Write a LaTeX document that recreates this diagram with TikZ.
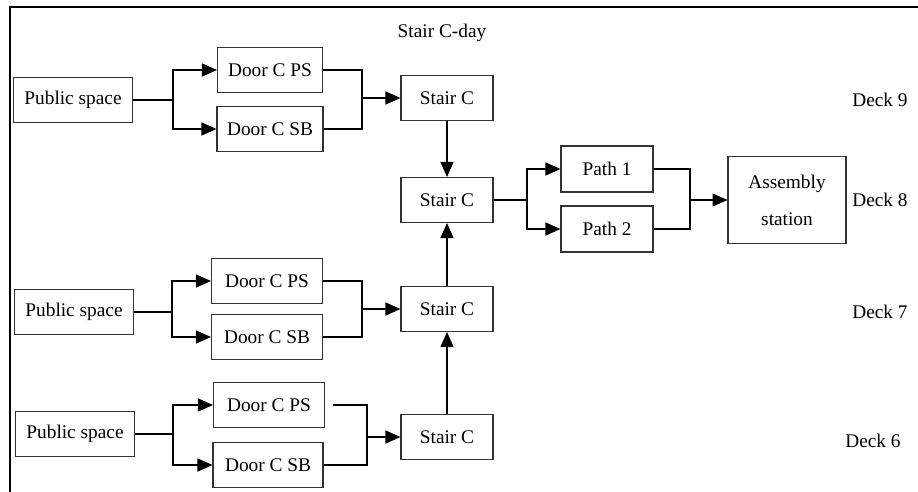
\documentclass[tikz,border=0pt]{standalone}
\usepackage{fontspec}
\setmainfont{Liberation Serif}
\usetikzlibrary{arrows.meta,positioning}
\tikzset{blk/.style={draw=black!80, line width=0.6pt, inner sep=2pt, minimum height=0.9cm, font=\fontsize{11}{13}\selectfont}}
\tikzset{wire/.style={draw, line width=0.7pt}}
\tikzset{arr/.style={wire, -{Triangle[length=0.3cm,width=0.26cm]}}}
\tikzset{lbl/.style={font=\fontsize{11}{13}\selectfont}}

\begin{document}
\begin{tikzpicture}[x=0.02cm, y=-0.02cm]
        \useasboundingbox (0,0) rectangle (918,492);
        \draw[line width=1.1pt] (10,492) -- (10,7) -- (918,7);

        \node[lbl] (title) at (442,33) {Stair C-day};

        % deck 9
        \node[blk, minimum width=2.38cm] (ps9) at (73,100) {Public space};
        \node[blk, minimum width=2.1cm] (dps9) at (270,70) {Door C PS};
        \node[blk, minimum width=2.12cm] (dsb9) at (270,129) {Door C SB};
        \node[blk, minimum width=1.84cm] (sc9) at (447,98) {Stair C};
        \coordinate (b9) at (173,100);
        \coordinate (m9) at (362,98);

        % deck 8
        \node[blk, minimum width=1.84cm] (sc8) at (447,200) {Stair C};
        \node[blk, minimum width=1.84cm, minimum height=0.92cm] (p1) at (607,169) {Path 1};
        \node[blk, minimum width=1.84cm, minimum height=0.92cm] (p2) at (607,229) {Path 2};
        \node[blk, minimum width=2.36cm, minimum height=1.74cm, align=center] (asm) at (787,200) {Assembly\\[8pt]station};
        \coordinate (b8) at (527,200);
        \coordinate (m8) at (690,200);

        % deck 7
        \node[blk, minimum width=2.38cm] (ps7) at (74,312) {Public space};
        \node[blk, minimum width=2.22cm] (dps7) at (267,281) {Door C PS};
        \node[blk, minimum width=2.22cm] (dsb7) at (267,337) {Door C SB};
        \node[blk, minimum width=1.84cm] (sc7) at (447,309) {Stair C};
        \coordinate (b7) at (172,312);
        \coordinate (m7) at (362,309);

        % deck 6
        \node[blk, minimum width=2.38cm] (ps6) at (75,434) {Public space};
        \node[blk, minimum width=2.22cm] (dps6) at (269,405) {Door C PS};
        \node[blk, minimum width=2.2cm] (dsb6) at (268,465) {Door C SB};
        \node[blk, minimum width=1.84cm] (sc6) at (447,437) {Stair C};
        \coordinate (b6) at (173,434);
        \coordinate (m6) at (367,437);

        \node[lbl] (d9) at (880,100) {Deck 9};
        \node[lbl] (d8) at (880,200) {Deck 8};
        \node[lbl] (d7) at (880,312) {Deck 7};
        \node[lbl] (d6) at (873,441) {Deck 6};

        \draw[wire] (ps9) -- (b9);
        \draw[arr] (b9) |- (dps9);
        \draw[arr] (b9) |- (dsb9);
        \draw[wire] (dps9) -| (m9);
        \draw[wire] (dsb9) -| (m9);
        \draw[arr] (m9) -- (sc9);

        \draw[wire] (ps7) -- (b7);
        \draw[arr] (b7) |- (dps7);
        \draw[arr] (b7) |- (dsb7);
        \draw[wire] (dps7) -| (m7);
        \draw[wire] (dsb7) -| (m7);
        \draw[arr] (m7) -- (sc7);

        \draw[wire] (ps6) -- (b6);
        \draw[arr] (b6) |- (dps6);
        \draw[arr] (b6) |- (dsb6);
        \draw[wire, shorten <=0.16cm] (dps6) -| (m6);
        \draw[wire] (dsb6) -| (m6);
        \draw[arr] (m6) -- (sc6);

        \draw[arr] (sc9) -- (sc8);
        \draw[arr] (sc7) -- (sc8);
        \draw[arr] (sc6) -- (sc7);

        \draw[wire] (sc8) -- (b8);
        \draw[arr] (b8) |- (p1);
        \draw[arr] (b8) |- (p2);
        \draw[wire] (p1) -| (m8);
        \draw[wire] (p2) -| (m8);
        \draw[arr] (m8) -- (asm);
    \end{tikzpicture}
\end{document}
